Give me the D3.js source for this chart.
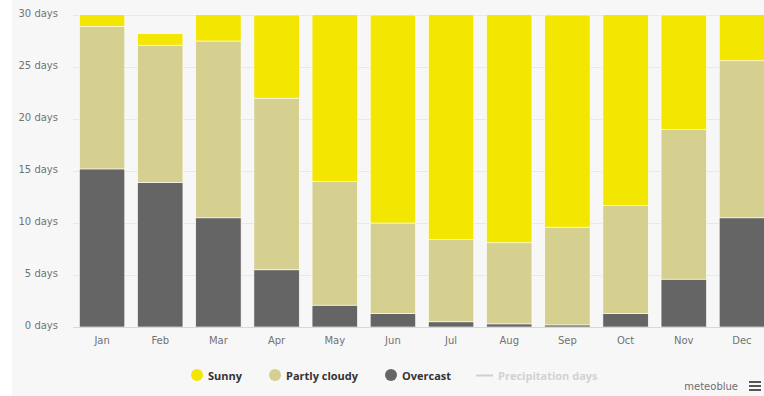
<!DOCTYPE html>
<html>
<head>
<meta charset="utf-8">
<script src="https://cdn.jsdelivr.net/npm/d3@7"></script>
<style>
  html, body { margin: 0; padding: 0; background: #ffffff; }
  svg { display: block; }
</style>
</head>
<body>
<svg id="chart" width="764" height="396"></svg>
<script>
// Monthly cloud cover, days per month
const months = ["Jan", "Feb", "Mar", "Apr", "May", "Jun", "Jul", "Aug", "Sep", "Oct", "Nov", "Dec"];
const overcast     = [15.2, 13.9, 10.5, 5.5, 2.1, 1.3, 0.5, 0.3, 0.2, 1.3, 4.6, 10.5];
const partlyCloudy = [13.7, 13.2, 17.0, 16.5, 11.9, 8.7, 7.9, 7.8, 9.4, 10.4, 14.4, 15.1];
const sunny        = [2.1, 1.1, 3.5, 8.0, 17.0, 20.0, 22.6, 22.9, 20.4, 19.3, 11.0, 5.4];
const yTicks = [0, 5, 10, 15, 20, 25, 30];

const seriesNames = ["Overcast", "Partly cloudy", "Sunny"];
const seriesColors = { "Overcast": "#656565", "Partly cloudy": "#d5d08f", "Sunny": "#f3e600" };

const rows = months.map((m, i) => ({
  month: m,
  "Overcast": overcast[i],
  "Partly cloudy": partlyCloudy[i],
  "Sunny": sunny[i]
}));

const svg = d3.select("#chart");
const W = 764, H = 396;
const plot = { left: 73, right: 771, top: 15, bottom: 327 };

// page background
svg.append("rect").attr("x", 12).attr("y", 0).attr("width", W - 12).attr("height", H).attr("fill", "#f7f7f7");

const x = d3.scaleBand().domain(months).range([plot.left, plot.right]).paddingInner(0.22).paddingOuter(0.11);
const y = d3.scaleLinear().domain([0, 30]).range([plot.bottom, plot.top]);

// grid
svg.append("g").selectAll("line").data(yTicks).join("line")
  .attr("x1", plot.left).attr("x2", W)
  .attr("y1", d => y(d) + 0.5).attr("y2", d => y(d) + 0.5)
  .attr("stroke", "#e8e8e8").attr("stroke-width", 1);

// y axis labels
const yAxis = d3.axisLeft(y).tickValues(yTicks).tickSize(0).tickPadding(0).tickFormat(d => d + " days");
const gy = svg.append("g").attr("transform", `translate(58,0)`).call(yAxis);
gy.select(".domain").remove();
gy.selectAll("text")
  .attr("font-family", "DejaVu Sans, Verdana, sans-serif").attr("font-size", 10)
  .attr("fill", "#727272").attr("dy", "0.1em");

// clip bars at the top of the plot
svg.append("defs").append("clipPath").attr("id", "plotClip")
  .append("rect").attr("x", plot.left).attr("y", plot.top).attr("width", W - plot.left).attr("height", plot.bottom - plot.top);

const stacked = d3.stack().keys(seriesNames)(rows);

svg.append("g").attr("clip-path", "url(#plotClip)")
  .selectAll("g").data(stacked).join("g")
  .attr("fill", d => seriesColors[d.key])
  .selectAll("rect").data(d => d).join("rect")
  .attr("x", d => x(d.data.month))
  .attr("width", x.bandwidth())
  .attr("y", d => y(d[1]))
  .attr("height", d => y(d[0]) - y(d[1]))
  .attr("stroke", "#ffffff").attr("stroke-width", 0.6);

// baseline
svg.append("line").attr("x1", plot.left).attr("x2", W)
  .attr("y1", plot.bottom + 0.5).attr("y2", plot.bottom + 0.5)
  .attr("stroke", "#d8d8d8");

// x axis labels
const xAxis = d3.axisBottom(x).tickSize(0).tickPadding(0);
const gx = svg.append("g").attr("transform", `translate(0,${plot.bottom + 10})`).call(xAxis);
gx.select(".domain").remove();
gx.selectAll("text")
  .attr("font-family", "DejaVu Sans, Verdana, sans-serif").attr("font-size", 10)
  .attr("fill", "#727272");

// legend
const legendItems = [
  { name: "Sunny", type: "dot", color: seriesColors["Sunny"], x: 197 },
  { name: "Partly cloudy", type: "dot", color: seriesColors["Partly cloudy"], x: 275 },
  { name: "Overcast", type: "dot", color: seriesColors["Overcast"], x: 391 },
  { name: "Precipitation days", type: "line", color: "#d0d0d0", x: 477 }
];
const legend = svg.append("g").attr("transform", "translate(0,375)");
legendItems.forEach(it => {
  const g = legend.append("g").attr("transform", `translate(${it.x},0)`);
  if (it.type === "dot") {
    g.append("circle").attr("r", 6).attr("fill", it.color);
    g.append("text").attr("x", 11).attr("y", 4.5).text(it.name)
      .attr("font-family", "Open Sans, sans-serif").attr("font-size", 11).attr("font-weight", 700)
      .attr("fill", "#333333");
  } else {
    g.append("line").attr("x1", -1).attr("x2", 16).attr("y1", 0.5).attr("y2", 0.5)
      .attr("stroke", it.color).attr("stroke-width", 2);
    g.append("text").attr("x", 21).attr("y", 4.5).text(it.name)
      .attr("font-family", "Open Sans, sans-serif").attr("font-size", 11).attr("font-weight", 700)
      .attr("fill", "#d2d2d2");
  }
});

// credits and menu
svg.append("text").attr("x", 738).attr("y", 390).attr("text-anchor", "end")
  .attr("font-family", "DejaVu Sans, Verdana, sans-serif").attr("font-size", 10)
  .attr("fill", "#6e6e6e").text("meteoblue");
svg.append("g").selectAll("rect").data([0, 4, 8]).join("rect")
  .attr("x", 749).attr("y", d => 381 + d).attr("width", 12).attr("height", 2).attr("fill", "#555555");
</script>
</body>
</html>
